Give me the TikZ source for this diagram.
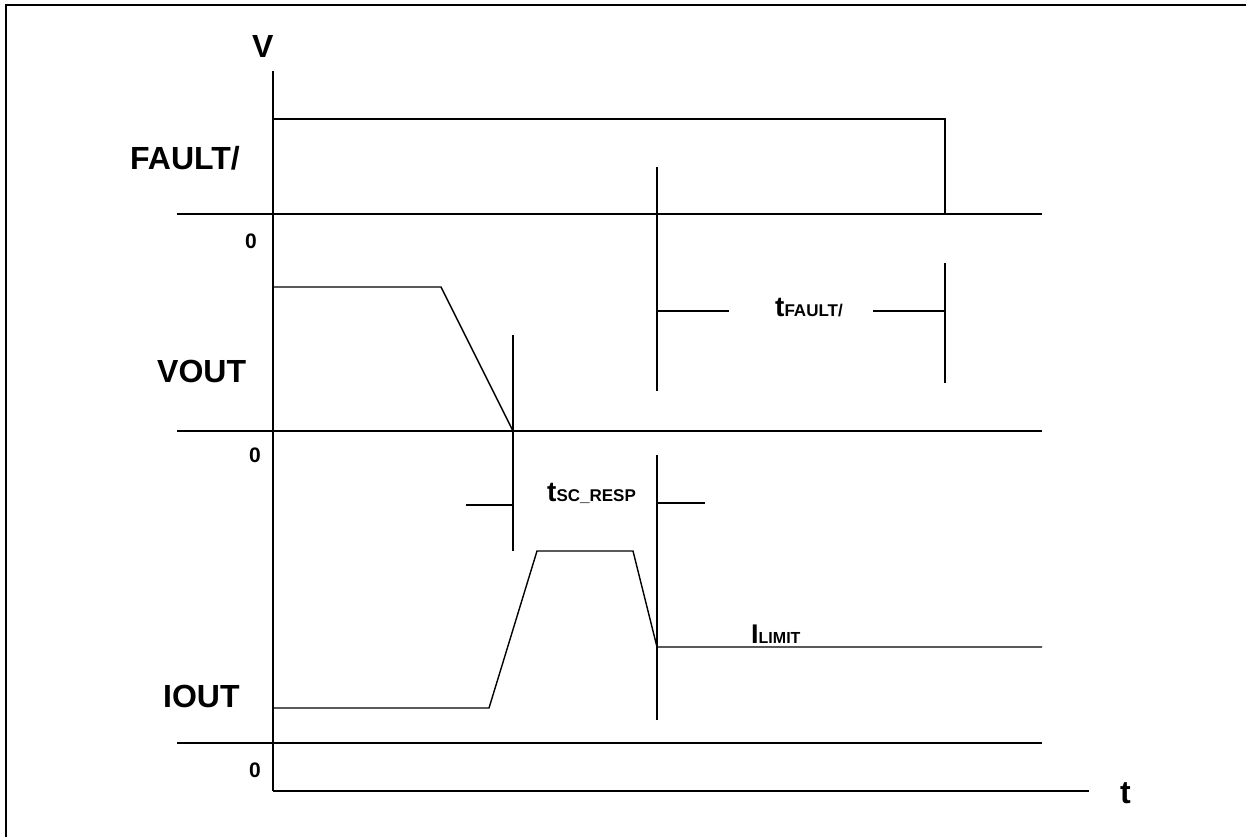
\documentclass[tikz,border=0pt]{standalone}
\usepackage{fontspec}
\setmainfont{Liberation Sans}
\begin{document}
\begin{tikzpicture}[x=1pt,y=-1pt,
  sig/.style={line width=1.4pt},
  zero/.style={line width=2pt},
  frame/.style={line width=2.6pt},
  big/.style={inner sep=0pt, font=\bfseries\fontsize{32}{36}\selectfont},
  small/.style={inner sep=0pt, font=\bfseries\fontsize{21}{24}\selectfont},
  tlab/.style={inner sep=0pt, font=\bfseries}]
\useasboundingbox (0,0) rectangle (1246,837);
% frame (top and left edges)
\coordinate (FrBL) at (6,837);
\coordinate (FrTL) at (6,5);
\coordinate (FrTR) at (1246,5);
\draw[frame] (FrBL) -- (FrTL) -- (FrTR);
% axes
\coordinate (Vtop) at (273,71);
\coordinate (O) at (273,791);
\coordinate (Tend) at (1089,791);
\draw[sig] (Vtop) -- (O);
\draw[zero] (O) -- (Tend);
\node[big, anchor=base west] (Vlab) at (252,58) {V};
\node[big, anchor=base west] (tlabel) at (1120,803) {t};
% FAULT/
\coordinate (Fz1) at (177,214);
\coordinate (Fz2) at (1042,214);
\coordinate (F1) at (273,119);
\coordinate (F2) at (945,119);
\coordinate (F3) at (945,214);
\draw[zero] (Fz1) -- (Fz2);
\draw[sig] (F1) -- (F2) -- (F3);
\node[big, anchor=base west] (Flab) at (130,170) {FAULT/};
\node[small, anchor=base east] (F0) at (257,248) {0};
% VOUT
\coordinate (Vz1) at (177,431);
\coordinate (Vz2) at (1042,431);
\coordinate (V1) at (273,287);
\coordinate (V2) at (441,287);
\coordinate (V3) at (513,431);
\draw[zero] (Vz1) -- (Vz2);
\draw[sig] (V1) -- (V2) -- (V3);
\node[big, anchor=base west] (Vout) at (157,382) {VOUT};
\node[small, anchor=base east] (V0) at (261,462) {0};
% IOUT
\coordinate (Iz1) at (177,743);
\coordinate (Iz2) at (1042,743);
\coordinate (I1) at (273,708);
\coordinate (I2) at (489,708);
\coordinate (I3) at (537,551);
\coordinate (I4) at (633,551);
\coordinate (I5) at (657,647);
\coordinate (I6) at (1042,647);
\draw[zero] (Iz1) -- (Iz2);
\draw[sig] (I1) -- (I2) -- (I3) -- (I4) -- (I5) -- (I6);
\node[big, anchor=base west] (Iout) at (163,707) {IOUT};
\node[small, anchor=base east] (I0) at (261,777) {0};
% timing markers
\coordinate (Ma1) at (513,335);
\coordinate (Ma2) at (513,551);
\coordinate (Ma3) at (466,505);
\coordinate (Ma4) at (513,505);
\coordinate (Mb1) at (657,167);
\coordinate (Mb2) at (657,391);
\coordinate (Mb3) at (657,455);
\coordinate (Mb4) at (657,720);
\coordinate (Mb5) at (657,311);
\coordinate (Mb6) at (729,311);
\coordinate (Mb7) at (657,503);
\coordinate (Mb8) at (705,503);
\coordinate (Mc1) at (945,263);
\coordinate (Mc2) at (945,383);
\coordinate (Mc3) at (873,311);
\coordinate (Mc4) at (945,311);
\draw[sig] (Ma1) -- (Ma2);
\draw[sig] (Ma3) -- (Ma4);
\draw[sig] (Mb1) -- (Mb2);
\draw[sig] (Mb3) -- (Mb4);
\draw[sig] (Mb5) -- (Mb6);
\draw[sig] (Mb7) -- (Mb8);
\draw[sig] (Mc1) -- (Mc2);
\draw[sig] (Mc3) -- (Mc4);
% labels
\node[tlab, anchor=base west] (tfault) at (775,316)
  {{\fontsize{28}{32}\selectfont t}{\fontsize{17}{20}\selectfont FAULT/}};
\node[tlab, anchor=base west] (tsc) at (547,501)
  {{\fontsize{28}{32}\selectfont t}{\fontsize{17}{20}\selectfont SC\_RESP}};
\node[tlab, anchor=base west] (ilim) at (751,643)
  {{\fontsize{27}{30}\selectfont I}{\fontsize{16}{19}\selectfont LIMIT}};
\end{tikzpicture}
\end{document}
